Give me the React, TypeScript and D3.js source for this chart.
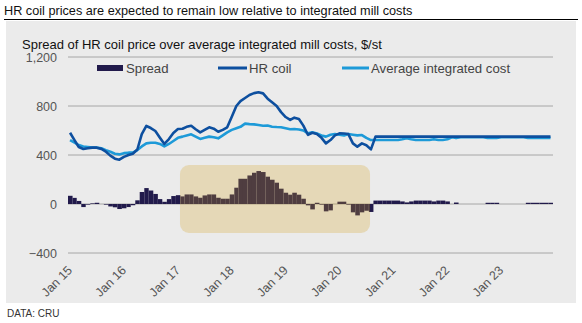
import React from "react";
import * as d3 from "d3";

const W = 582;
const H = 323;

const startYear = 2015;
const yearLabels = ["Jan 15", "Jan 16", "Jan 17", "Jan 18", "Jan 19", "Jan 20", "Jan 21", "Jan 22", "Jan 23"];
const yTicks = [-400, 0, 400, 800, 1200];

// Monthly values, Jan 2015 .. Dec 2023
const hrCoil = [
  582, 520, 465, 449, 455, 460, 460, 450, 427, 395, 370, 362,
  385, 400, 410, 445, 570, 637, 620, 596, 541, 490, 530, 580,
  612, 614, 630, 639, 610, 585, 605, 626, 615, 590, 605, 626,
  713, 800, 840, 865, 890, 905, 912, 903, 860, 830, 800, 750,
  710, 686, 705, 694, 640, 565, 582, 571, 540, 495, 522, 560,
  577, 575, 571, 495, 468, 495, 480, 446, 550, 550, 550, 550,
  550, 550, 550, 550, 550, 550, 550, 550, 550, 550, 550, 550,
  550, 550, 550, 550, 550, 550, 550, 550, 550, 550, 550, 550,
  550, 550, 550, 550, 550, 550, 550, 550, 550, 550, 550, 550,
];

const avgCost = [
  522, 500, 481, 470, 465, 460, 460, 455, 440, 427, 410, 405,
  415, 419, 419, 440, 470, 495, 500, 500, 490, 470, 490, 514,
  540, 550, 560, 569, 550, 531, 540, 550, 545, 536, 560, 585,
  605, 618, 630, 656, 652, 650, 645, 639, 640, 631, 628, 626,
  618, 610, 612, 608, 600, 577, 585, 575, 560, 550, 565, 571,
  565, 560, 571, 565, 560, 563, 540, 522, 522, 522, 522, 522,
  522, 522, 528, 536, 528, 522, 522, 522, 522, 528, 522, 522,
  528, 545, 538, 545, 545, 545, 545, 545, 545, 540, 540, 540,
  545, 545, 545, 545, 545, 545, 540, 540, 540, 540, 540, 540,
];

const spread = [
  67, 50, 25, -25, -5, 5, 10, 0, -5, -20, -27, -41,
  -35, -25, -10, 30, 98, 130, 110, 82, 40, 18, 40, 65,
  72, 62, 78, 78, 62, 51, 70, 78, 78, 51, 43, 43,
  78, 133, 206, 206, 233, 255, 269, 261, 223, 198, 174, 125,
  92, 76, 92, 76, 43, -11, -44, 10, -5, -60, -52, 0,
  19, 19, -5, -68, -93, -68, -55, -65, 28, 28, 28, 28,
  28, 28, 21, 13, 21, 28, 28, 28, 28, 21, 28, 28,
  21, 0, 12, 0, 0, 0, 0, 0, 0, 10, 10, 10,
  0, 0, 0, 0, 0, 0, 10, 10, 10, 10, 10, 10,
];

const highlightStart = new Date(2017, 0, 29);
const highlightEnd = new Date(2020, 7, 9);

const FONT = "'Liberation Sans', Arial, Helvetica, sans-serif";

export default function App() {
  const x = d3
    .scaleTime()
    .domain([new Date(startYear, 0, 1), new Date(startYear + 9, 0, 1)])
    .range([68, 553]);
  const y = d3.scaleLinear().domain([-400, 1200]).range([253, 57]);

  const months = spread.map((_, i) => new Date(startYear, i, 1));
  const mid = (i: number) => new Date(startYear, i, 15);

  const line = d3
    .line<number>()
    .x((_, i) => x(mid(i)))
    .y((d) => y(d))
    .curve(d3.curveLinear);

  const hx0 = x(highlightStart);
  const hx1 = x(highlightEnd);

  return (
    <svg
      width={W}
      height={H}
      style={{ position: "absolute", left: 0, top: 0, background: "#fff" }}
      fontFamily={FONT}
    >
      <text x={4} y={15} fontSize={12.7} fill="#111">
        HR coil prices are expected to remain low relative to integrated mill costs
      </text>
      <line x1={4} x2={578} y1={19.5} y2={19.5} stroke="#000" strokeWidth={1} />
      <rect x={6} y={21} width={570} height={282} fill="#ebebeb" />
      <text x={22} y={49} fontSize={13} fill="#111">
        Spread of HR coil price over average integrated mill costs, $/st
      </text>

      {yTicks.map((t) => (
        <g key={t}>
          <line x1={68} x2={553} y1={y(t)} y2={y(t)} stroke="#a6a6a6" strokeWidth={1} />
          <text x={57} y={y(t) + 4.5} fontSize={12.5} fill="#555" textAnchor="end">
            {d3.format(",")(t)}
          </text>
        </g>
      ))}

      {spread.map((v, i) => {
        const x0 = x(months[i]);
        const x1 = x(new Date(startYear, i + 1, 1));
        return (
          <rect
            key={i}
            x={x0}
            width={x1 - x0}
            y={Math.min(y(v), y(0))}
            height={Math.abs(y(v) - y(0))}
            fill="#211a4b"
          />
        );
      })}

      <rect
        x={hx0}
        y={165}
        width={hx1 - hx0}
        height={68}
        rx={9}
        ry={9}
        fill="#d3a322"
        fillOpacity={0.26}
      />

      <path d={line(avgCost) || ""} fill="none" stroke="#1d9ad8" strokeWidth={2.6} strokeLinejoin="round" />
      <path d={line(hrCoil) || ""} fill="none" stroke="#0d4f9f" strokeWidth={2.6} strokeLinejoin="round" />

      {yearLabels.map((lab, k) => {
        const tx = x(new Date(startYear + k, 0, 1)) + 5;
        const ty = 271;
        return (
          <text
            key={lab}
            x={tx}
            y={ty}
            fontSize={12.5}
            fill="#555"
            textAnchor="end"
            transform={`rotate(-45 ${tx} ${ty})`}
          >
            {lab}
          </text>
        );
      })}

      {/* Legend */}
      <rect x={97} y={65} width={26} height={6} fill="#211a4b" />
      <text x={126} y={72.5} fontSize={13.2} fill="#444">Spread</text>
      <line x1={218} x2={247} y1={68} y2={68} stroke="#0d4f9f" strokeWidth={3} />
      <text x={249} y={72.5} fontSize={13.2} fill="#444">HR coil</text>
      <line x1={342} x2={369} y1={68} y2={68} stroke="#1d9ad8" strokeWidth={3} />
      <text x={371} y={72.5} fontSize={13.2} fill="#444">Average integrated cost</text>

      <text x={7} y={317} fontSize={10} fill="#333">DATA: CRU</text>
    </svg>
  );
}
